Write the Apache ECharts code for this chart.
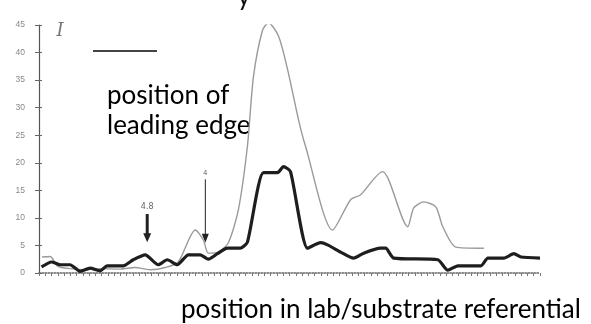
<!DOCTYPE html>
<html>
<head>
<meta charset="utf-8">
<script src="https://cdn.jsdelivr.net/npm/echarts@6/dist/echarts.min.js"></script>
<style>
html,body{margin:0;padding:0;background:#fff;}
#main{width:591px;height:324px;}
</style>
</head>
<body>
<div id="main"></div>
<script>
// thick dark trace
var thickX = [0.5,2.5,4.2,6.2,8.2,10.2,12.2,13.6,16.8,18.8,21.2,23.8,25.6,27.6,29.8,32.2,33.8,35.6,37.6,40.2,41.6,44.8,47.6,48.8,50.2,53.6,56.2,57.6,60.2,62.8,64.8,68.2,69.2,70.8,79.6,81.6,83.6,88.2,89.6,92.8,94.8,96.2,100];
var thickY = [1.1,2.0,1.5,1.5,0.3,0.9,0.4,1.3,1.3,2.4,3.3,1.5,2.4,1.5,3.3,3.3,2.5,3.5,4.5,4.5,5.6,18.2,18.2,19.3,18.4,4.5,5.5,5.1,3.8,2.7,3.6,4.5,4.5,2.7,2.4,0.5,1.3,1.3,2.7,2.7,3.5,2.9,2.7];
// thin grey trace
var greyX = [0.6,2.2,3.8,6.2,9.2,12.2,16.2,19.2,22.2,25.2,27.8,31.2,32.8,33.8,35.8,37.8,39.8,41.6,42.8,44.6,45.8,47.8,49.6,51.8,53.2,58.6,62.2,64.2,68.6,69.8,73.6,74.8,76.8,79.2,80.6,83.2,88.2,88.8];
var greyY = [2.9,3.0,1.2,0.8,0.6,0.8,0.7,1.0,0.6,1.0,2.0,7.8,6.0,3.6,3.8,5.5,11.5,23,35.6,44,45.4,43,37,27.8,23,7.8,13.3,14.2,18.4,16.9,8.4,11.8,12.9,12,8.4,4.7,4.5,4.5];
var yTicks = [0,5,10,15,20,25,30,35,40,45];

function pairs(xs, ys) {
    var out = [];
    for (var i = 0; i < xs.length; i++) out.push([xs[i], ys[i]]);
    return out;
}

var chart = echarts.init(document.getElementById('main'));
var axisCommon = {
    type: 'value',
    min: 0,
    max: 45,
    interval: 5,
    splitLine: {show: false}
};
option = {
    backgroundColor: '#fff',
    animation: false,
    grid: {left: 39, right: 51, top: 25, bottom: 51},
    xAxis: {
        type: 'value',
        min: 0,
        max: 100,
        interval: 1.25,
        axisLine: {lineStyle: {color: '#666', width: 1.5, type: 'dotted'}},
        axisTick: {show: true, length: 3, lineStyle: {color: '#777'}},
        axisLabel: {show: false},
        splitLine: {show: false}
    },
    yAxis: [
        Object.assign({}, axisCommon, {
            axisLine: {show: true, lineStyle: {color: '#555', width: 1.2}},
            axisTick: {show: true, length: 4, lineStyle: {color: '#666'}},
            axisLabel: {
                color: '#888', fontSize: 8.5, margin: 14,
                customValues: yTicks
            }
        }),
        Object.assign({}, axisCommon, {
            position: 'left',
            axisLine: {show: false},
            axisTick: {show: true, inside: true, length: 3, lineStyle: {color: '#666'}},
            axisLabel: {show: false}
        })
    ],
    series: [
        {
            type: 'line',
            data: pairs(greyX, greyY),
            smooth: 0.25,
            showSymbol: false,
            lineStyle: {color: '#9a9a9a', width: 1.4},
            z: 2
        },
        {
            type: 'line',
            data: pairs(thickX, thickY),
            smooth: 0.2,
            showSymbol: false,
            lineStyle: {color: '#1e1e1e', width: 3.2},
            z: 3
        }
    ]
};
chart.setOption(option);

// arrows placed in data units
function arrow(xv, y0, y1, w, label, fs) {
    var p0 = chart.convertToPixel({gridIndex: 0}, [xv, y0]);
    var p1 = chart.convertToPixel({gridIndex: 0}, [xv, y1]);
    var hw = w > 2 ? 4 : 3.5;
    return [
        {type: 'line', shape: {x1: p0[0], y1: p0[1], x2: p1[0], y2: p1[1] - 7},
         style: {stroke: '#222', lineWidth: w}},
        {type: 'polygon', shape: {points: [[p1[0] - hw, p1[1] - 9], [p1[0] + hw, p1[1] - 9], [p1[0], p1[1]]]},
         style: {fill: '#222'}},
        {type: 'text', x: p0[0], y: p0[1] - 3,
         style: {text: label, fill: '#666', fontSize: fs, align: 'center', verticalAlign: 'bottom', fontFamily: 'DejaVu Sans'}}
    ];
}

var g = [];
g = g.concat(arrow(21.6, 10.7, 5.6, 3, '4.8', 8));
g = g.concat(arrow(33.2, 17.0, 5.5, 1, '4', 7));
g.push({type: 'line', shape: {x1: 93, y1: 51, x2: 157, y2: 51}, style: {stroke: '#444', lineWidth: 1.8}});
g.push({type: 'text', x: 60, y: 40, style: {text: 'I', fill: '#777', fontSize: 18, fontStyle: 'italic', fontFamily: 'DejaVu Serif', align: 'center', verticalAlign: 'bottom'}});
g.push({type: 'text', x: 244, y: -16, style: {text: 'y', fill: '#111', fontSize: 26, fontFamily: 'Lato', align: 'center', verticalAlign: 'top'}});
g.push({type: 'text', x: 107, y: 83, style: {text: 'position of', fill: '#000', fontSize: 26, fontFamily: 'Lato', verticalAlign: 'top'}});
g.push({type: 'text', x: 107, y: 113, style: {text: 'leading edge', fill: '#000', fontSize: 26, fontFamily: 'Lato', verticalAlign: 'top'}});
g.push({type: 'text', x: 181, y: 297, style: {text: 'position in lab/substrate referential', fill: '#000', fontSize: 26, fontFamily: 'Lato', verticalAlign: 'top'}});
chart.setOption({graphic: g});
</script>
</body>
</html>
